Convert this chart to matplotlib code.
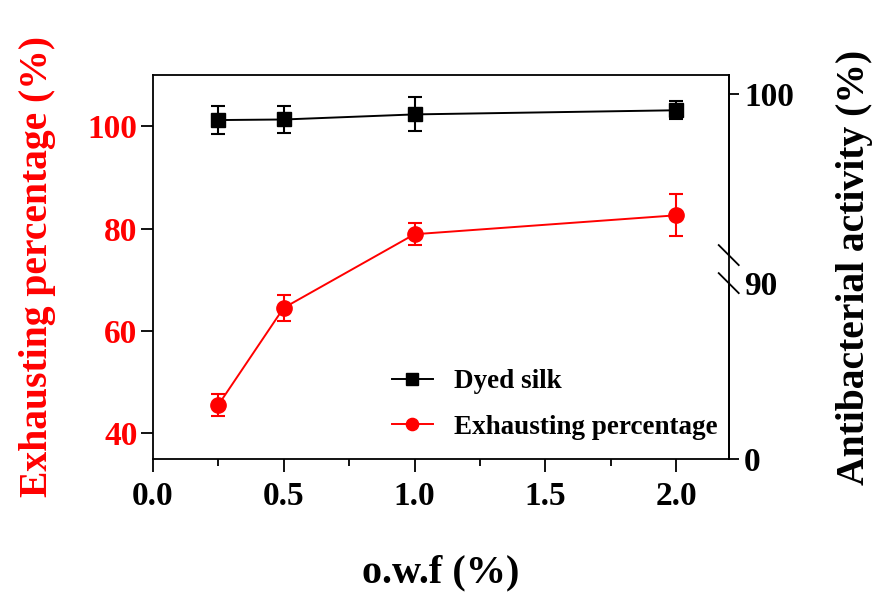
import matplotlib
matplotlib.use("Agg")
import matplotlib.pyplot as plt
import numpy as np

plt.rcParams['font.family'] = ['Liberation Serif', 'DejaVu Serif']
plt.rcParams['font.weight'] = 'bold'

# data
owf = [0.25, 0.5, 1.0, 2.0]
exhaust = [45.5, 64.5, 78.9, 82.6]
exhaust_err = [2.2, 2.5, 2.2, 4.1]
silk = [98.63, 98.66, 98.93, 99.15]
silk_err = [0.74, 0.71, 0.90, 0.49]

# broken right axis: 0-90 squeezed into lower part, 90-101 stretched
brk = 0.459
step = 0.0491


def fwd(v):
    v = np.asarray(v, dtype=float)
    return np.where(v < 90, v * brk / 90, brk + (v - 90) * step)


def inv(u):
    u = np.asarray(u, dtype=float)
    return np.where(u < brk, u * 90 / brk, 90 + (u - brk) / step)


fig = plt.figure(figsize=(8.72, 5.92), dpi=100)
ax = fig.add_axes([0.1751, 0.2247, 0.6606, 0.6486])
ax2 = ax.twinx()

red = '#ff0000'
e1 = ax.errorbar(owf, exhaust, yerr=exhaust_err, color=red, marker='o', ms=11,
                 lw=1.4, capsize=5, capthick=1.5, elinewidth=1.5)
e2 = ax2.errorbar(owf, silk, yerr=silk_err, color='black', marker='s', ms=10.5,
                  lw=1.4, capsize=5, capthick=1.5, elinewidth=1.5)

ax.set_xlim(0, 2.2)
ax.set_ylim(35, 110)
ax.set_xticks([0.0, 0.5, 1.0, 1.5, 2.0])
ax.set_xticks([0.25, 0.75, 1.25, 1.75], minor=True)
ax.set_xticklabels(['0.0', '0.5', '1.0', '1.5', '2.0'])
ax.set_yticks([40, 60, 80, 100])

ax2.set_yscale('function', functions=(fwd, inv))
ax2.set_ylim(0, 101.02)
ax2.set_yticks([0, 90, 100])
ax2.set_yticklabels(['0', '90', '100'])
ax2.yaxis.set_minor_locator(matplotlib.ticker.NullLocator())
ax2.yaxis.get_major_ticks()[1].tick2line.set_visible(False)

tick_fs = 24
ax.tick_params(axis='x', which='major', direction='out', length=9, width=1.3,
               labelsize=tick_fs, pad=7)
ax.tick_params(axis='x', which='minor', direction='out', length=5, width=1.3)
ax.tick_params(axis='y', direction='out', length=9, width=1.3, labelsize=tick_fs,
               labelcolor=red, pad=2)
ax2.tick_params(axis='y', direction='out', length=7, width=1.3, labelsize=tick_fs, pad=4)

for s in ax.spines.values():
    s.set_linewidth(1.3)
for s in ax2.spines.values():
    s.set_visible(False)

# right spine with break marks
lo, hi = 0.458, 0.531
ax2.plot([1, 1], [0, lo], transform=ax2.transAxes, color='black', lw=1.3, clip_on=False)
ax2.plot([1, 1], [hi, 1], transform=ax2.transAxes, color='black', lw=1.3, clip_on=False)
dx, dy = 10 / 576, 10 / 384
for yc in (lo, hi):
    ax2.plot([1 - dx, 1 + dx], [yc + dy, yc - dy], transform=ax2.transAxes,
             color='black', lw=1.3, clip_on=False)

ax.set_xlabel('o.w.f (%)', fontsize=29, fontweight='bold')
ax.xaxis.set_label_coords(0.5, -0.248)
ax.set_ylabel('Exhausting percentage (%)', fontsize=28.5, fontweight='bold', color=red)
ax.yaxis.set_label_coords(-0.168, 0.5)
ax2.set_ylabel('Antibacterial activity (%)', fontsize=28.5, fontweight='bold')
ax2.yaxis.set_label_coords(1.186, 0.5)

leg = ax2.legend([e2[0], e1[0]], ['Dyed silk', 'Exhausting percentage'],
                 loc='center left', bbox_to_anchor=(392 / 872, 1 - 404.5 / 592),
                 bbox_transform=fig.transFigure, frameon=False, fontsize=19.5,
                 borderpad=0, borderaxespad=0, handlelength=1.5, handletextpad=0.8,
                 labelspacing=0.75, markerscale=0.8)

fig.savefig('out.png', dpi=100)
